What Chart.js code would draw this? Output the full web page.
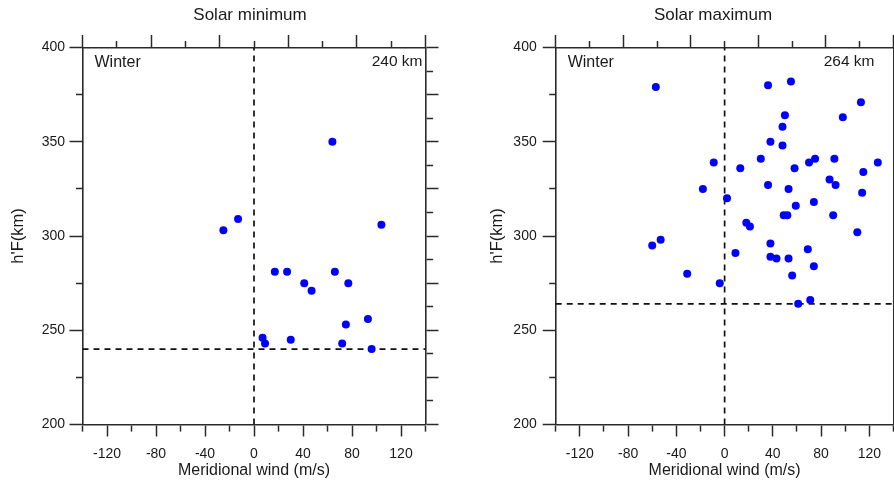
<!DOCTYPE html>
<html>
<head>
<meta charset="utf-8">
<script src="https://cdn.jsdelivr.net/npm/chart.js@4.4.1/dist/chart.umd.min.js"></script>
<style>
    html, body { margin: 0; padding: 0; background: #fff; overflow: hidden; }
    #wrap  { position: relative; width: 894px; height: 483px; }
    .panel { position: absolute; top: 0; height: 483px; }
</style>
</head>
<body>
<div id="wrap">
    <div class="panel" style="left:0;width:447px"><canvas id="minChart" width="447" height="483"></canvas></div>
    <div class="panel" style="left:447px;width:460px"><canvas id="maxChart" width="460" height="483"></canvas></div>
</div>

<script>
// ------------------------------------------------------------
// data (winter, meridional wind vs h'F)
// ------------------------------------------------------------

// solar minimum
var MIN_WIND = [-25, -13, 64, 104, 17, 27, 66, 41, 77, 47, 93, 75, 7, 9, 30, 72, 96];
var MIN_HF   = [303, 309, 350, 306, 281, 281, 281, 275, 275, 271, 256, 253, 246, 243, 245, 243, 240];

// solar maximum
var MAX_WIND = [-57, 36, 55, 113, 50, 98, 48, 38, 48, -9, 30, 13, 58, 70, 75, 91, 127, 115, 87, 92,
                36, -18, 53, 114, 2, 59, 74, 49, 52, 90, 18, 21, 110, -60, -53, 9, 38, 38, 43, 53,
                69, 74, 56, -31, -4, 61, 71];
var MAX_HF   = [379, 380, 382, 371, 364, 363, 358, 350, 348, 339, 341, 336, 336, 339, 341, 341, 339, 334, 330, 327,
                327, 325, 325, 323, 320, 316, 318, 311, 311, 311, 307, 305, 302, 295, 298, 291, 296, 289, 288, 288,
                293, 284, 279, 280, 275, 264, 266];

// reference heights (dashed horizontal lines)
var MIN_LEVEL = 240;
var MAX_LEVEL = 264;

// axes
var WIND_RANGE = [-140, 140];
var HF_RANGE   = [200, 400];
var WIND_TICKS = [-120, -80, -40, 0, 40, 80, 120];
var HF_TICKS   = [200, 250, 300, 350, 400];

var FONT = "'Liberation Sans', Arial, sans-serif";
var TEXT = "#1a1a1a";
var AXIS = "#2a2a2a";


function toPoints(xs, ys) {
    return xs.map(function (x, i) { return { x: x, y: ys[i] }; });
}

function isLong(ctx, list) {
    return ctx.tick && list.indexOf(ctx.tick.value) >= 0;
}

// ------------------------------------------------------------
// text inside / above each panel
// ------------------------------------------------------------
var panelText = {
    id: "panelText",
    afterDraw: function (chart, args, o) {
        var c = chart.ctx, a = chart.chartArea;
        c.save();
        c.fillStyle = TEXT;
        c.textBaseline = "middle";

        c.font = "17px " + FONT;
        c.textAlign = "center";
        c.fillText(o.title, o.titleX, 15);

        c.font = "16px " + FONT;
        c.textAlign = "left";
        c.fillText("Winter", a.left + 12, a.top + 15);
        c.font = "15.5px " + FONT;
        c.textAlign = "right";
        c.fillText(o.level + " km", a.right - o.levelGap, a.top + 14);
        c.restore();
    }
};

function buildChart(id, xs, ys, level, p) {
    var ctx = document.getElementById(id).getContext("2d");

    return new Chart(ctx, {
        type: "scatter",
        data: {
            datasets: [
                {
                    data: toPoints(xs, ys),
                    backgroundColor: "#0000ff",
                    borderWidth: 0,
                    pointRadius: 4,
                    order: 0
                },
                {   // vertical zero-wind line
                    data: [{ x: 0, y: HF_RANGE[0] }, { x: 0, y: HF_RANGE[1] }],
                    showLine: true, pointRadius: 0,
                    borderColor: "#111", borderWidth: 1.7, borderDash: [6, 5],
                    order: 1
                },
                {   // horizontal reference height
                    data: [{ x: WIND_RANGE[0], y: level }, { x: WIND_RANGE[1], y: level }],
                    showLine: true, pointRadius: 0,
                    borderColor: "#111", borderWidth: 1.7, borderDash: [6, 5],
                    order: 1
                }
            ]
        },
        options: {
            responsive: false,
            animation: false,
            layout: { padding: { top: 35, left: 0, right: 0, bottom: 0 } },
            plugins: {
                legend:  { display: false },
                tooltip: { enabled: false },
                panelText: { title: p.title, titleX: p.titleX, level: level, levelGap: p.levelGap }
            },
            scales: {
                x: {
                    type: "linear", position: "bottom",
                    min: WIND_RANGE[0], max: WIND_RANGE[1],
                    ticks: {
                        stepSize: 20, autoSkip: false, maxRotation: 0, padding: 9,
                        color: TEXT, font: { family: FONT, size: 14 },
                        callback: function (v) { return WIND_TICKS.indexOf(v) >= 0 ? String(v) : ""; }
                    },
                    grid: {
                        drawOnChartArea: false, tickLength: 12, tickWidth: 1.5, tickColor: AXIS,
                        tickBorderDash: function (c) { return isLong(c, WIND_TICKS) ? [] : [6, 100]; }
                    },
                    border: { color: AXIS, width: 1.6 },
                    title: {
                        display: true, text: "Meridional wind (m/s)", color: TEXT,
                        font: { family: FONT, size: 16 }, padding: { top: 0, bottom: 2.5 }
                    },
                    afterFit: function (s) { s.height = 58.5; }
                },
                xTop: {
                    type: "linear", position: "top",
                    min: WIND_RANGE[0], max: WIND_RANGE[1],
                    ticks: { stepSize: 28, autoSkip: false, callback: function () { return ""; } },
                    grid: {
                        drawOnChartArea: false, tickLength: 12.5, tickWidth: 1.5, tickColor: AXIS,
                        tickBorderDash: function (c) {
                            return c.tick && (c.tick.value - WIND_RANGE[0]) % 56 === 0 ? [] : [0, 6, 6, 100];
                        }
                    },
                    border: { color: AXIS, width: 1.6 },
                    afterFit: function (s) { s.height = 12.5; }
                },
                y: {
                    type: "linear", position: "left",
                    min: HF_RANGE[0], max: HF_RANGE[1],
                    ticks: {
                        stepSize: 25, autoSkip: false, padding: p.yPad,
                        color: TEXT, font: { family: FONT, size: 14 },
                        callback: function (v) { return HF_TICKS.indexOf(v) >= 0 ? String(v) : ""; }
                    },
                    grid: {
                        drawOnChartArea: false, tickLength: 13, tickWidth: 1.5, tickColor: AXIS,
                        tickBorderDash: function (c) { return isLong(c, HF_TICKS) ? [] : [0, 6.5, 6, 100]; }
                    },
                    border: { color: AXIS, width: 1.6 },
                    title: {
                        display: true, text: "h'F(km)", color: TEXT,
                        font: { family: FONT, size: 16.5 }, padding: { top: p.yTitlePad, bottom: 0 }
                    },
                    afterFit: function (s) { s.width = p.yWidth; }
                },
                yRight: {
                    type: "linear", position: "right",
                    min: HF_RANGE[0], max: HF_RANGE[1],
                    ticks: { stepSize: 12.5, autoSkip: false, callback: function () { return ""; } },
                    grid: {
                        drawOnChartArea: false, tickLength: 13, tickWidth: 1.5, tickColor: AXIS,
                        tickBorderDash: function (c) {
                            return c.tick && c.tick.value % 25 === 0 ? [] : [6.5, 100];
                        }
                    },
                    border: { color: AXIS, width: 1.6 },
                    afterFit: function (s) { s.width = p.rightWidth; }
                }
            }
        },
        plugins: [panelText]
    });
}

buildChart("minChart", MIN_WIND, MIN_HF, MIN_LEVEL, {
    title: "Solar minimum", titleX: 250, levelGap: 3,
    yWidth: 82.5, yPad: 4.5, yTitlePad: 8.5, rightWidth: 21.5
});

buildChart("maxChart", MAX_WIND, MAX_HF, MAX_LEVEL, {
    title: "Solar maximum", titleX: 266, levelGap: 19,
    yWidth: 108.7, yPad: 6, yTitlePad: 40.5, rightWidth: 13.5
});
</script>
</body>
</html>
